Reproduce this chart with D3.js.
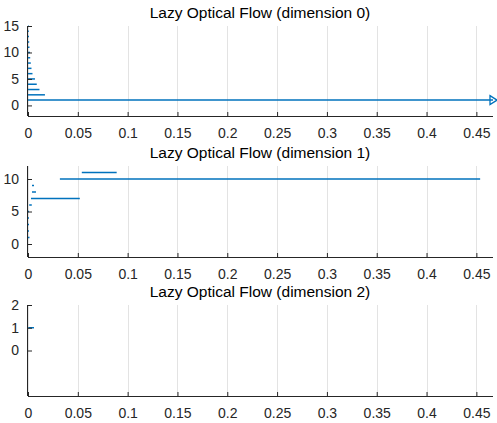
<!DOCTYPE html>
<html><head><meta charset="utf-8">
<script src="https://cdn.jsdelivr.net/npm/d3@7"></script>
<style>body{margin:0;background:#fff;} text{font-family:"Liberation Sans",Arial,sans-serif;}</style>
</head><body>
<svg id="c" width="497" height="423"></svg>
<script>
// Data: persistence barcodes (birth, death, index)
const titles = ["Lazy Optical Flow (dimension 0)", "Lazy Optical Flow (dimension 1)", "Lazy Optical Flow (dimension 2)"];
const xTicks = [0, 0.05, 0.1, 0.15, 0.2, 0.25, 0.3, 0.35, 0.4, 0.45];
const xMax = 0.4667;
const dim0Index  = [1,2,3,4,5,6,7,8,9,10,11,12,13,14,15];
const dim0Births = [0,0,0,0,0,0,0,0,0,0,0,0,0,0,0];
const dim0Deaths = [Infinity,0.017,0.0115,0.0088,0.007,0.0045,0.0035,0.0028,0.0022,0.002,0.0015,0.0012,0.001,0.0008,0.0006];
const dim1Index  = [1,2,3,4,5,6,7,8,9,10,11];
const dim1Births = [0,0,0,0,0,0.0012,0.003,0.004,0.004,0.032,0.054];
const dim1Deaths = [0.0015,0.001,0.001,0.001,0.001,0.0038,0.052,0.008,0.006,0.4538,0.089];
const dim2Index  = [1];
const dim2Births = [0.0003];
const dim2Deaths = [0.006];
const yDomains = [[-2,15],[-2,12],[-2,2]];
const yTicks = [[0,5,10,15],[0,5,10],[0,1,2]];

const panels = [
  {idx: dim0Index, b: dim0Births, d: dim0Deaths, top: 26, bottom: 116},
  {idx: dim1Index, b: dim1Births, d: dim1Deaths, top: 166, bottom: 257},
  {idx: dim2Index, b: dim2Births, d: dim2Deaths, top: 305, bottom: 396}
];

const svg = d3.select("#c");
const left = 28, right = 493;
const x = d3.scaleLinear().domain([0, xMax]).range([left, right]);
const txt = "#262626", axc = "#262626", blue = "#0072BD";
const fmt = d3.format("");

panels.forEach((p, i) => {
  const y = d3.scaleLinear().domain(yDomains[i]).range([p.bottom, p.top]);
  const g = svg.append("g");
  // grid
  g.selectAll("line.grid").data(xTicks).join("line")
    .attr("x1", d => Math.round(x(d)) + 0.5).attr("x2", d => Math.round(x(d)) + 0.5)
    .attr("y1", p.top).attr("y2", p.bottom)
    .attr("stroke", "#e3e3e3").attr("stroke-width", 1);
  // bars
  const bars = p.idx.map((k, j) => ({y: k, b: p.b[j], d: p.d[j]}));
  g.selectAll("line.bar").data(bars).join("line")
    .attr("x1", d => x(d.b)).attr("x2", d => x(isFinite(d.d) ? d.d : xMax))
    .attr("y1", d => y(d.y)).attr("y2", d => y(d.y))
    .attr("stroke", blue).attr("stroke-width", 1.5);
  // infinite markers
  bars.filter(d => !isFinite(d.d)).forEach(d => {
    const cx = x(xMax), cy = y(d.y);
    g.append("path").attr("d", `M${cx-3},${cy-4.5}L${cx+4},${cy}L${cx-3},${cy+4.5}Z`)
      .attr("fill", "none").attr("stroke", blue).attr("stroke-width", 1.3);
  });
  // x axis
  const xa = g.append("g").attr("transform", `translate(0,${p.bottom})`)
    .call(d3.axisBottom(x).tickValues(xTicks).tickSize(-4).tickPadding(12).tickFormat(fmt));
  xa.select(".domain").attr("stroke", axc).attr("d", `M${left},0.5H${right}`);
  xa.selectAll(".tick line").attr("stroke", axc);
  xa.selectAll("text").attr("fill", txt).attr("font-size", 14);
  // y axis
  const ya = g.append("g").attr("transform", `translate(${left},0)`)
    .call(d3.axisLeft(y).tickValues(yTicks[i]).tickSize(-4).tickPadding(9).tickFormat(fmt));
  ya.select(".domain").attr("stroke", axc).attr("d", `M-0.5,${p.bottom}V${p.top}`);
  ya.selectAll(".tick line").attr("stroke", axc);
  ya.selectAll("text").attr("fill", txt).attr("font-size", 14);
  // title
  svg.append("text").attr("x", 260).attr("y", p.top - 8)
    .attr("text-anchor", "middle").attr("fill", "#000").attr("font-size", 15.5).text(titles[i]);
});
</script>
</body></html>
